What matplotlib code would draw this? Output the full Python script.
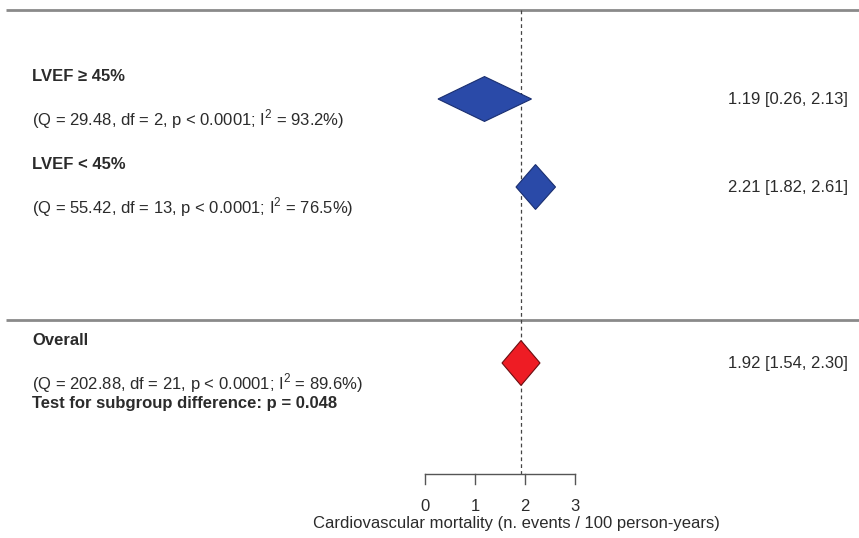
import matplotlib
matplotlib.use("Agg")
import matplotlib.pyplot as plt
from matplotlib.patches import Polygon

# ---- data ----
groups = ["LVEF \u2265 45%", "LVEF < 45%", "Overall"]
estimates = [1.19, 2.21, 1.92]
lower = [0.26, 1.82, 1.54]
upper = [2.13, 2.61, 2.30]
stats = ["(Q = 29.48, df = 2, p < 0.0001; I$^2$ = 93.2%)",
         "(Q = 55.42, df = 13, p < 0.0001; I$^2$ = 76.5%)",
         "(Q = 202.88, df = 21, p < 0.0001; I$^2$ = 89.6%)"]
subgroup_test = "Test for subgroup difference: p = 0.048"
xticks = [0, 1, 2, 3]
xlabel = "Cardiovascular mortality (n. events / 100 person-years)"
rows = [0, 2, 6]
colors = ["#2a4aa8", "#2a4aa8", "#ee1c24"]
edges = ["#1a2f70", "#1a2f70", "#6b0d10"]

plt.rcParams['font.family'] = ['Liberation Sans', 'DejaVu Sans']
plt.rcParams['mathtext.fontset'] = 'custom'
plt.rcParams['mathtext.rm'] = 'Liberation Sans'

W, H = 859, 538
fig = plt.figure(figsize=(W / 100, H / 100), dpi=100)
ax = fig.add_axes([0, 0, 1, 1])
ax.set_axis_off()
# 50 px per x unit, 0 at px 425; 44 px per row, row 0 at px 99
ax.set_xlim(-425 / 50, (W - 425) / 50)
ax.set_ylim((H - 99) / 44, -99 / 44)

fs = 12
tc = "#2b2b2b"
line_c = "#8a8a8a"

# separator lines
top_y = -2.02
mid_y = 5.02
for yy in (top_y, mid_y):
    ax.plot([-8.38, 8.7], [yy, yy], color=line_c, lw=2.0, solid_capstyle='butt')

# reference dashed line at overall estimate
axis_y = 8.53
ax.plot([estimates[2], estimates[2]], [top_y, axis_y], color="#444444",
        lw=0.9, ls=(0, (3, 2.5)))

# diamonds
half_h = 0.51
for r, e, lo, hi, fc, ec in zip(rows, estimates, lower, upper, colors, edges):
    poly = Polygon([[lo, r], [e, r - half_h], [hi, r], [e, r + half_h]],
                   closed=True, facecolor=fc, edgecolor=ec, lw=0.8, zorder=3)
    ax.add_patch(poly)
    ax.text(8.46, r, f"{e:.2f} [{lo:.2f}, {hi:.2f}]", ha='right', va='center',
            fontsize=fs, color=tc)

# left labels
lx = -7.86
for r, g, s in zip(rows, groups, stats):
    ax.text(lx, r - 0.52, g, ha='left', va='center', fontsize=fs,
            fontweight='bold', color=tc)
    ax.text(lx, r + 0.46 if r < 6 else r + 0.45, s, ha='left', va='center',
            fontsize=fs, color=tc)
ax.text(lx, rows[2] + 0.91, subgroup_test, ha='left', va='center', fontsize=fs,
        fontweight='bold', color=tc)

# x axis
ax.plot([xticks[0], xticks[-1]], [axis_y, axis_y], color="#555555", lw=1.0)
for t in xticks:
    ax.plot([t, t], [axis_y, axis_y + 0.21], color="#555555", lw=1.0)
    ax.text(t, axis_y + 0.72, str(t), ha='center', va='center', fontsize=fs,
            color=tc)
ax.text(1.82, axis_y + 1.12, xlabel, ha='center', va='center', fontsize=fs,
        color=tc)

fig.savefig("out.png", dpi=100)
